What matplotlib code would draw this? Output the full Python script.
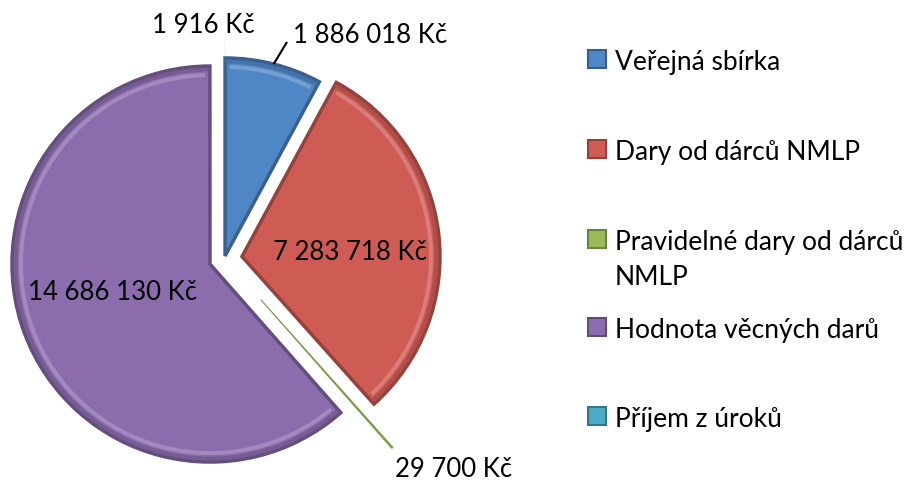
import textwrap

import matplotlib
matplotlib.use("Agg")
import matplotlib.pyplot as plt
import numpy as np
from matplotlib.colors import to_rgb
from matplotlib.patches import Wedge

categories = ["Veřejná sbírka", "Dary od dárců NMLP", "Pravidelné dary od dárců NMLP",
              "Hodnota věcných darů", "Příjem z úroků"]
values = [1886018, 7283718, 29700, 14686130, 1916]
colors = ["#4f86c6", "#cf5b55", "#9bbb59", "#8b6cad", "#4bacc6"]

W, H = 914, 481


def kc(v):
    return f"{v:,}".replace(",", " ") + " Kč"


def shade(c, f):
    return tuple(np.clip(np.array(to_rgb(c)) * f, 0, 1))


def tint(c, f):
    rgb = np.array(to_rgb(c))
    return tuple(rgb + (1 - rgb) * f)


plt.rcParams["font.family"] = ["Lato", "DejaVu Sans"]
FS_LBL = 18.5
FS_LEG = 19

fig = plt.figure(figsize=(W / 100, H / 100), dpi=100)
ax = fig.add_axes([0, 0, 1, 1])

# pie drawn in pixel units (y measured from the bottom)
R = 198
cx, cy = 224.4, H - 259.6
explode = [2.7, 17.7, 55, 15.4, 20]
wedges, _ = ax.pie(values, colors=colors, startangle=90, counterclock=False,
                   radius=R, center=(cx, cy), explode=explode,
                   wedgeprops=dict(linewidth=2.5))
for w, c in zip(wedges, colors):
    w.set_edgecolor(shade(c, 0.72))
wedges[2].set_linewidth(0.8)
wedges[2].set_edgecolor("#7a9a48")
wedges[4].set_linewidth(0)

# soft bevel: a light band just inside the rim of the large slices
for w, c in zip(wedges[:2] + wedges[3:4], colors[:2] + colors[3:4]):
    ax.add_patch(Wedge(w.center, w.r - 7, w.theta1 + 1.5, w.theta2 - 1.5, width=4,
                       facecolor=tint(c, 0.35), edgecolor="none", alpha=0.6))
    ax.add_patch(Wedge(w.center, w.r - 1.5, w.theta1, w.theta2, width=4,
                       facecolor=shade(c, 0.8), edgecolor="none", alpha=0.7))

ax.set_xlim(0, W)
ax.set_ylim(0, H)
ax.axis("off")


def arc_point(w, frac=1.0):
    t = np.deg2rad((w.theta1 + w.theta2) / 2)
    return w.center[0] + frac * w.r * np.cos(t), w.center[1] + frac * w.r * np.sin(t)


# value labels: left edge / baseline
lbl_pos = [(293, 43), (273, 260), (395, 477), (28, 300), (152, 33)]
for i, (v, (x, y)) in enumerate(zip(values, lbl_pos)):
    if i == 0:
        px, py = arc_point(wedges[0])
        ax.plot([px, 287], [py, H - 43], color="black", lw=1.5, solid_capstyle="butt")
    ax.text(x, H - y, kc(v), fontsize=FS_LBL, ha="left", va="baseline")

# legend
leg_base = [70, 160, 250, 338, 427]
for lab, c, y in zip(categories, colors, leg_base):
    ax.add_patch(plt.Rectangle((588, H - y + 1), 18, 18, facecolor=c,
                               edgecolor=shade(c, 0.7), lw=1.5))
    for k, line in enumerate(textwrap.fill(lab, 24).split("\n")):
        ax.text(615, H - y - 35 * k, line, fontsize=FS_LEG, ha="left", va="baseline")

fig.savefig("out.png", dpi=100)
